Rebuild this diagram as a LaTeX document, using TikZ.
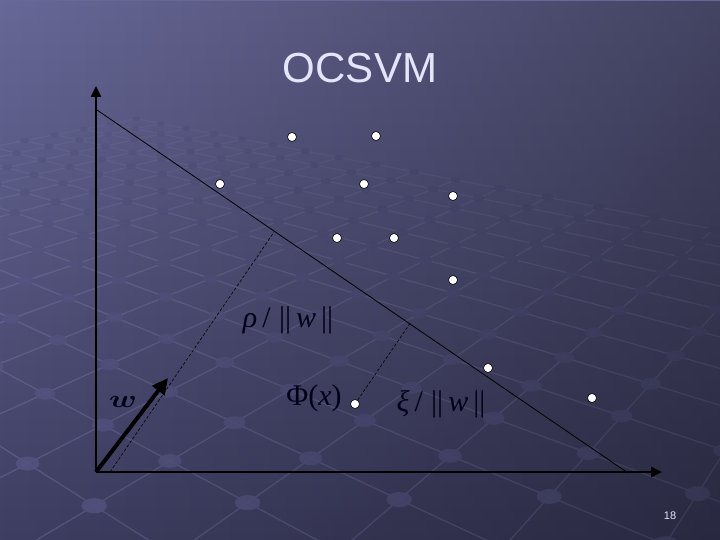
\documentclass[tikz,border=0pt]{standalone}
\usepackage{amsmath,amssymb,fontspec}
\newfontfamily\slidefont{Liberation Sans}
\newfontfamily\eqfont{Liberation Serif}
\usetikzlibrary{arrows.meta,calc,fadings}
\definecolor{bgtop}{RGB}{104,104,152}
\definecolor{bgbot}{RGB}{62,62,98}
\colorlet{bgmid}{bgbot!50!bgtop}
\definecolor{gridline}{RGB}{140,140,190}
\definecolor{bump}{RGB}{84,84,130}
\definecolor{titlecol}{RGB}{228,228,250}
\tikzfading[name=gridfade,top color=transparent!0,bottom color=transparent!100]
\tikzfading[name=sidefade,left color=transparent!100,right color=transparent!0]
\tikzset{pt/.style={draw,circle,fill=white,minimum size=9pt,inner sep=0pt,line width=.6pt},ax/.style={line width=2.6pt,-{Triangle[length=11pt,width=10pt]}},dashln/.style={line width=.6pt,dash pattern=on 3pt off 2pt},lbl/.style={font=\eqfont\fontsize{30}{34}\selectfont,text=black!90!blue},gl/.style={gridline,opacity=.3,line width=1.3pt}}
\newcommand\gridpt[2]{\pgfmathsetmacro\gd{1+0.0737*(#1)+0.069*(#2)}\pgfmathsetmacro\gx{(77.4*(#1)-55.2*(#2)+103)/\gd}\pgfmathsetmacro\gy{(-4.42*(#1)-4.14*(#2)+425)/\gd}}

\begin{document}
\begin{tikzpicture}[x=1pt,y=-1pt]
\useasboundingbox(0,0)rectangle(720,540);
\begin{scope}
\clip(0,0)rectangle(720,540);
\shade[top color=bgtop,bottom color=bgbot](0,0)rectangle(720,540);
\foreach\v in{-7,...,12}{\gridpt{-4}{\v}\let\xa\gx\let\ya\gy\gridpt{12}{\v}\draw[gl](\xa,\ya)--(\gx,\gy);}
\foreach\u in{-4,...,12}{\gridpt{\u}{-7}\let\xa\gx\let\ya\gy\gridpt{\u}{12}\draw[gl](\xa,\ya)--(\gx,\gy);}
\foreach\u in{-4,...,12}\foreach\v in{-7,...,12}{\gridpt{\u}{\v}\fill[bump,opacity=.9](\gx,\gy)ellipse[x radius=11/\gd,y radius=6.5/\gd];}
\shade[top color=bgtop,bottom color=bgmid,path fading=gridfade](0,0)rectangle(720,270);
\fill[black,opacity=.35,path fading=sidefade](0,0)rectangle(720,540);
\end{scope}
\node[font=\slidefont\fontsize{42}{48}\selectfont,text=titlecol](title)at(360,68){OCSVM};
\node[font=\slidefont\fontsize{11}{13}\selectfont,text=titlecol](pg)at(670,516){18};
\coordinate(O)at(96,472);\coordinate(ytip)at(96,86);\coordinate(xtip)at(662,472);
\coordinate(hA)at(97,110);\coordinate(hB)at(628,473);\coordinate(wtip)at(168,378);\coordinate(r0)at(110,472);
\draw[line width=.8pt](hA)--(hB);
\draw[ax](O)--(ytip);\draw[ax](O)--(xtip);
\draw[line width=4pt,-{Triangle[length=16pt,width=15pt]}](O)--(wtip);
\draw[dashln](r0)--($(hA)!(r0)!(hB)$);
\node[pt](phi)at(355,404){};
\draw[dashln](phi)--($(hA)!(phi)!(hB)$);
\foreach\x/\y/\n in{292/137/1,376/136/2,220/184/3,364/184/4,453/196/5,337/238/6,394/238/7,453/280/8,488/368/9,592/398/10}\node[pt](p\n)at(\x,\y){};
\node[lbl](rho)at(288,320){\textit{ρ}\,/\;||\,\textit{w}\,||};
\node[lbl](phil)at(314,398){Φ(\textit{x})};
\node[lbl](xi)at(441,404){\textit{ξ}\,/\;||\,\textit{w}\,||};
\node[lbl](wl)at(123,402){\scalebox{1.3}[1]{$\boldsymbol{w}$}};
\end{tikzpicture}
\end{document}
